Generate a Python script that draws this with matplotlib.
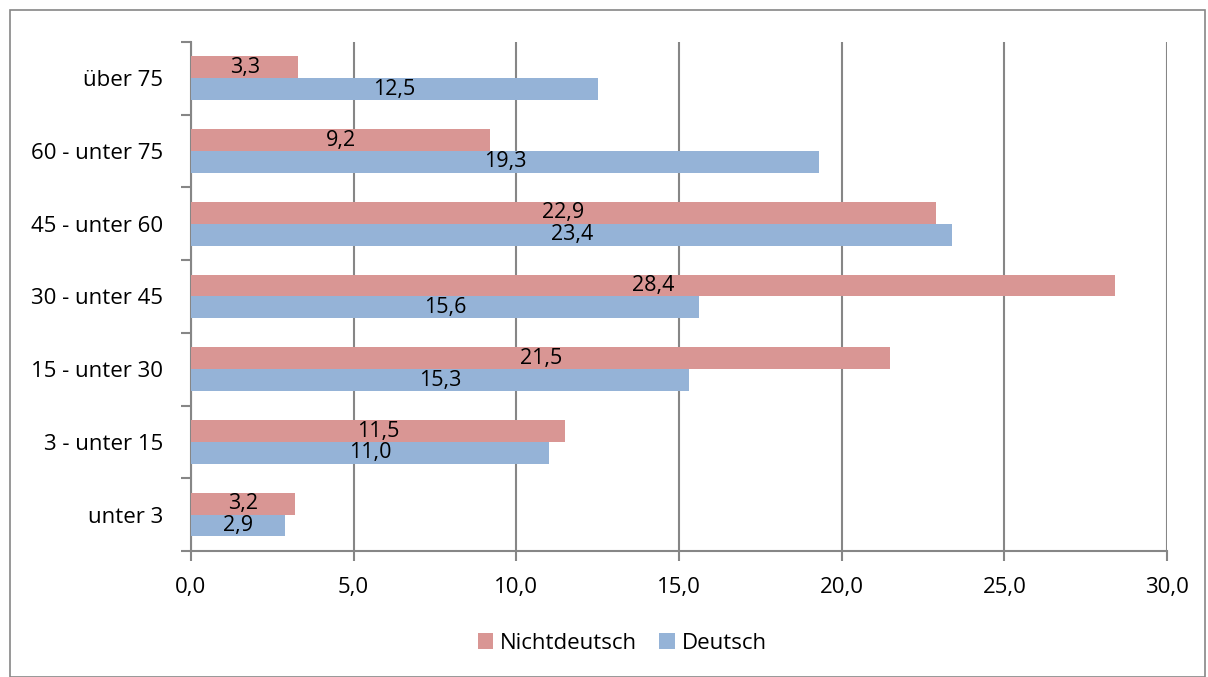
import matplotlib.pyplot as plt
import numpy as np
from matplotlib.patches import Rectangle

plt.rcParams['font.family'] = ['Open Sans', 'DejaVu Sans']

categories = ["unter 3", "3 - unter 15", "15 - unter 30", "30 - unter 45",
              "45 - unter 60", "60 - unter 75", "über 75"]
nichtdeutsch = [3.2, 11.5, 21.5, 28.4, 22.9, 9.2, 3.3]
deutsch = [2.9, 11.0, 15.3, 15.6, 23.4, 19.3, 12.5]
xticks = [0, 5, 10, 15, 20, 25, 30]

pink = "#D99694"
blue = "#95B3D7"
grid = "#868686"


def fmt(v):
    return f"{v:.1f}".replace(".", ",")


fig = plt.figure(figsize=(12.08, 6.77), dpi=100)
ax = fig.add_axes([0.1581, 0.1861, 0.808, 0.752])

y = np.arange(len(categories))
h = 0.3
b1 = ax.barh(y + h / 2, nichtdeutsch, height=h, color=pink, label="Nichtdeutsch", zorder=3)
b2 = ax.barh(y - h / 2, deutsch, height=h, color=blue, label="Deutsch", zorder=3)
ax.bar_label(b1, labels=[fmt(v) for v in nichtdeutsch], label_type="center", fontsize=15.5)
ax.bar_label(b2, labels=[fmt(v) for v in deutsch], label_type="center", fontsize=15.5)

ax.set_xlim(0, 30)
ax.set_ylim(-0.5, len(categories) - 0.5)
ax.set_xticks(xticks)
ax.set_xticklabels([fmt(v) for v in xticks], fontsize=16)
ax.set_yticks(y)
ax.set_yticklabels(categories, fontsize=16)
ax.set_yticks(np.arange(-0.5, len(categories)), minor=True)
ax.tick_params(axis="y", which="major", length=0, pad=20)
ax.tick_params(axis="y", which="minor", length=7, color=grid, width=1.5)
ax.tick_params(axis="x", length=7, color=grid, width=1.5, pad=12)

ax.grid(axis="x", color=grid, linewidth=1.5, zorder=0)
for s in ["top", "right"]:
    ax.spines[s].set_visible(False)
for s in ["left", "bottom"]:
    ax.spines[s].set_color(grid)
    ax.spines[s].set_linewidth(1.5)

leg = fig.legend(loc="center", bbox_to_anchor=(0.515, 0.05), ncol=2, frameon=False,
                 fontsize=16, handlelength=0.7, handleheight=0.7, handletextpad=0.3,
                 columnspacing=1.0)

fig.patches.append(Rectangle((10 / 1208, 0), 1195 / 1208, 667 / 677, transform=fig.transFigure,
                             fill=False, edgecolor=grid, linewidth=1.2))

fig.savefig("out.png", dpi=100)
